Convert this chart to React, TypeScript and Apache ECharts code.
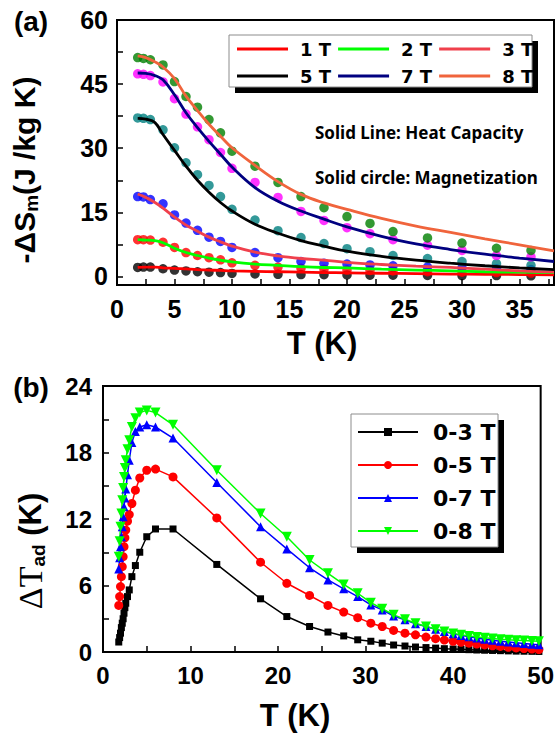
import React, { useEffect, useRef } from 'react';
import * as echarts from 'echarts';

// ---------- Panel (a): magnetic entropy change ----------
const FIELD_NAMES = ['1 T', '2 T', '3 T', '5 T', '7 T', '8 T'];
const CURVE_COLORS = ['#ff0000', '#00ff00', '#f0404c', '#000000', '#000080', '#f0643c'];
const DOT_COLORS = ['#000000', '#ff0000', '#0000ff', '#008080', '#ff00ff', '#008000'];

// heat-capacity derived curves
const CURVE_T = [1.8, 2.5, 3.3, 4, 5, 6, 7, 8, 9, 10, 12, 14, 16, 18, 20, 23, 26, 29, 32, 35, 38];
const CP_1T = [2.1, 2.2, 2.2, 2.0, 1.9, 1.75, 1.6, 1.5, 1.4, 1.3, 1.2, 1.1, 1.0, 0.9, 0.85, 0.75, 0.65, 0.55, 0.5, 0.45, 0.4];
const CP_2T = [8.6, 8.5, 8.4, 7.9, 6.6, 5.6, 4.9, 4.3, 3.8, 3.4, 2.9, 2.6, 2.3, 2.1, 2.0, 1.7, 1.5, 1.3, 1.1, 1.0, 0.9];
const CP_3T = [19.3, 18.5, 17.3, 16.0, 13.9, 12.0, 10.6, 9.2, 8.1, 7.1, 5.7, 4.8, 4.2, 3.8, 3.3, 2.8, 2.4, 2.1, 1.7, 1.3, 1.0];
const CP_5T = [37.0, 36.8, 36.0, 33.2, 29.5, 25.8, 22.5, 19.7, 17.3, 15.3, 12.2, 10.1, 8.4, 7.1, 5.9, 4.7, 3.8, 3.1, 2.5, 2.0, 1.6];
const CP_7T = [47.6, 47.5, 47.0, 46.0, 42.5, 38.3, 34.8, 31.6, 28.6, 25.6, 20.8, 17.6, 15.3, 13.4, 11.6, 9.4, 7.6, 6.3, 5.2, 4.3, 3.5];
const CP_8T = [51.6, 51.2, 50.2, 49.0, 46.3, 42.2, 38.8, 35.6, 32.8, 30.1, 26.0, 22.2, 19.2, 17.2, 15.7, 13.6, 11.8, 10.3, 8.8, 7.4, 6.0];

// magnetization derived points
const MAG_T = [1.8, 2.3, 2.9, 4, 5, 6, 7, 8, 9, 10, 12, 14, 16, 18, 20, 22, 24, 27, 30, 33, 36];
const MAG_1T = [2.1, 2.2, 2.2, 1.8, 1.5, 1.3, 1.1, 1.0, 0.9, 0.7, 0.6, 0.5, 0.45, 0.4, 0.35, 0.3, 0.3, 0.25, 0.2, 0.2, 0.15];
const MAG_2T = [8.6, 8.6, 8.5, 8.0, 6.8, 5.6, 4.9, 4.4, 3.9, 3.2, 2.6, 2.2, 1.9, 1.7, 1.5, 1.4, 1.3, 1.1, 1.0, 0.9, 0.8];
const MAG_3T = [18.7, 18.6, 18.0, 17.0, 14.4, 12.5, 10.8, 9.2, 8.2, 6.8, 5.6, 4.4, 3.5, 3.1, 2.9, 2.7, 2.5, 2.2, 2.0, 1.8, 1.6];
const MAG_5T = [37.1, 37.0, 36.7, 34.3, 30.1, 26.6, 23.8, 21.3, 18.7, 15.7, 13.2, 10.7, 9.1, 7.7, 6.5, 5.8, 4.9, 4.2, 3.5, 3.0, 2.6];
const MAG_7T = [47.4, 47.3, 47.0, 45.5, 41.6, 38.0, 35.0, 32.0, 29.0, 25.3, 22.0, 18.5, 15.2, 13.1, 11.4, 10.0, 8.6, 7.3, 6.1, 4.9, 4.6];
const MAG_8T = [51.2, 51.0, 50.7, 49.5, 45.6, 42.1, 39.6, 36.7, 33.6, 29.3, 25.8, 22.0, 18.7, 16.1, 14.0, 12.4, 10.5, 9.0, 7.8, 6.6, 6.1];

const CP_CURVES = [CP_1T, CP_2T, CP_3T, CP_5T, CP_7T, CP_8T];
const MAG_POINTS = [MAG_1T, MAG_2T, MAG_3T, MAG_5T, MAG_7T, MAG_8T];

const A_X_TICKS = [0, 2.5, 5, 7.5, 10, 12.5, 15, 17.5, 20, 22.5, 25, 27.5, 30, 32.5, 35, 37.5];
const A_X_LABELS = [0, 5, 10, 15, 20, 25, 30, 35];
const A_Y_TICKS = [0, 7.5, 15, 22.5, 30, 37.5, 45, 52.5, 60];
const A_Y_LABELS = [0, 15, 30, 45, 60];

// ---------- Panel (b): adiabatic temperature change ----------
const ADIABATIC_NAMES = ['0-3 T', '0-5 T', '0-7 T', '0-8 T'];
const ADIABATIC_COLORS = ['#000000', '#ff0000', '#0000ff', '#00ff00'];
const ADIABATIC_SYMBOLS = ['rect', 'circle', 'triangle', 'triangle'];
const ADIABATIC_ROTATE = [0, 0, 0, 180];
const ADIABATIC_SIZES = [7, 9, 9, 10];

const B_T = [1.8, 1.9, 2.0, 2.1, 2.2, 2.3, 2.4, 2.5, 2.6, 2.8, 3.0, 3.3, 3.7, 4.2, 5.0, 6.0, 8.0, 13, 18, 21,
  23.6, 25.7, 27.5, 29.1, 30.6, 31.9, 33.2, 34.5, 35.7, 36.9, 38.0, 39.0, 40.0, 40.9, 41.8, 42.7, 43.6, 44.5,
  45.4, 46.3, 47.2, 48.1, 49.0, 49.8];
const DT_3T = [0.9, 1.3, 1.7, 2.2, 2.6, 3.0, 3.5, 4.0, 4.4, 5.0, 5.6, 6.8, 7.8, 9.0, 10.4, 11.1, 11.1, 7.9, 4.8, 3.2,
  2.3, 1.8, 1.45, 1.1, 0.97, 0.8, 0.63, 0.54, 0.45, 0.4, 0.35, 0.3, 0.27, 0.24, 0.21, 0.18, 0.16, 0.14, 0.12, 0.1,
  0.08, 0.07, 0.06, 0.05];
const DT_5T = [4.2, 5.0, 5.9, 6.8, 7.7, 8.6, 9.5, 10.3, 11.0, 11.8, 12.4, 13.4, 14.6, 15.7, 16.4, 16.5, 15.8, 12.1, 8.1, 6.2,
  5.1, 4.2, 3.6, 3.1, 2.6, 2.3, 1.95, 1.7, 1.55, 1.35, 1.2, 1.08, 0.97, 0.88, 0.8, 0.72, 0.64, 0.56, 0.5, 0.43,
  0.37, 0.31, 0.26, 0.22];
const DT_7T = [7.5, 8.5, 9.5, 10.4, 11.3, 12.2, 13.1, 13.9, 14.7, 16.0, 17.3, 18.9, 19.9, 20.3, 20.5, 20.3, 19.3, 15.3, 11.3, 9.3,
  7.6, 6.5, 5.7, 5.0, 4.25, 3.8, 3.25, 2.9, 2.55, 2.3, 2.05, 1.85, 1.65, 1.5, 1.38, 1.26, 1.15, 1.05, 0.97, 0.9,
  0.83, 0.76, 0.7, 0.65];
const DT_8T = [8.6, 10.0, 11.3, 12.5, 13.7, 14.8, 15.8, 16.6, 17.3, 18.3, 19.1, 20.3, 21.1, 21.6, 21.8, 21.6, 20.5, 16.4, 12.5, 10.4,
  8.3, 7.1, 6.1, 5.3, 4.45, 3.9, 3.35, 2.95, 2.6, 2.3, 2.05, 1.85, 1.68, 1.55, 1.45, 1.36, 1.28, 1.22, 1.16, 1.11,
  1.07, 1.03, 1.0, 0.97];
const ADIABATIC_VALUES = [DT_3T, DT_5T, DT_7T, DT_8T];

const B_X_TICKS = [0, 5, 10, 15, 20, 25, 30, 35, 40, 45, 50];
const B_X_LABELS = [0, 10, 20, 30, 40, 50];
const B_Y_TICKS = [0, 3, 6, 9, 12, 15, 18, 21, 24];
const B_Y_LABELS = [0, 6, 12, 18, 24];

const pairs = (xs: number[], ys: number[]) => xs.map((x, i) => [x, ys[i]]);

const ARIAL = 'Liberation Sans, Arial, sans-serif';

function valueAxis(
  gridIndex: number, min: number, max: number, ticks: number[], labels: number[],
  fontSize: number, margin: number,
) {
  return {
    type: 'value',
    gridIndex,
    min,
    max,
    axisLine: { show: true, onZero: false, lineStyle: { color: '#000', width: 2 } },
    axisTick: { show: true, inside: true, length: 6, customValues: ticks, lineStyle: { color: '#000', width: 1.5 } },
    splitLine: { show: false },
    axisLabel: {
      customValues: labels,
      color: '#000',
      fontFamily: ARIAL,
      fontWeight: 'bold',
      fontSize,
      margin,
    },
  };
}

export default function App() {
  const ref = useRef<HTMLDivElement>(null);

  useEffect(() => {
    if (!ref.current) return;
    const chart = echarts.init(ref.current, undefined, { renderer: 'svg' });

    const entropySeries: any[] = [];
    FIELD_NAMES.forEach((name, i) => {
      entropySeries.push({
        name: name + ' (M)',
        type: 'scatter',
        xAxisIndex: 0,
        yAxisIndex: 0,
        symbol: 'circle',
        symbolSize: 9.5,
        itemStyle: { color: DOT_COLORS[i] },
        data: pairs(MAG_T, MAG_POINTS[i]),
        z: 2,
      });
    });
    FIELD_NAMES.forEach((name, i) => {
      entropySeries.push({
        name,
        type: 'line',
        xAxisIndex: 0,
        yAxisIndex: 0,
        symbol: 'none',
        smooth: 0.4,
        color: CURVE_COLORS[i],
        lineStyle: { color: CURVE_COLORS[i], width: 2.8 },
        data: pairs(CURVE_T, CP_CURVES[i]),
        z: 3,
      });
    });

    const adiabaticSeries = ADIABATIC_NAMES.map((name, i) => ({
      name,
      type: 'line',
      xAxisIndex: 1,
      yAxisIndex: 1,
      symbol: ADIABATIC_SYMBOLS[i],
      symbolSize: ADIABATIC_SIZES[i],
      symbolRotate: ADIABATIC_ROTATE[i],
      showSymbol: true,
      color: ADIABATIC_COLORS[i],
      itemStyle: { color: ADIABATIC_COLORS[i] },
      lineStyle: { color: ADIABATIC_COLORS[i], width: 1.5 },
      data: pairs(B_T, ADIABATIC_VALUES[i]),
      z: 3,
    }));

    const boldText = (text: string, x: number, y: number, size: number, family = ARIAL, align = 'left') => ({
      type: 'text',
      x,
      y,
      z: 5,
      style: {
        text,
        fill: '#000',
        fontSize: size,
        fontWeight: 'bold',
        fontFamily: family,
        align,
        verticalAlign: 'middle',
      },
    });

    const legendBox = (x: number, y: number, w: number, h: number) => [
      { type: 'rect', z: 3, shape: { x: x + 6, y: y + 6, width: w, height: h }, style: { fill: '#000' } },
      { type: 'rect', z: 3, shape: { x, y, width: w, height: h }, style: { fill: '#fff', stroke: '#8c8c8c', lineWidth: 1 } },
    ];

    chart.setOption({
      animation: false,
      textStyle: { fontFamily: ARIAL },
      grid: [
        { left: 117, right: 3, top: 20, bottom: 450, show: true, borderColor: '#000', borderWidth: 2, backgroundColor: 'transparent' },
        { left: 103, right: 15, top: 386, bottom: 83, show: true, borderColor: '#000', borderWidth: 2, backgroundColor: 'transparent' },
      ],
      xAxis: [
        valueAxis(0, 0, 38, A_X_TICKS, A_X_LABELS, 25, 11),
        valueAxis(1, 0, 50, B_X_TICKS, B_X_LABELS, 24, 11),
      ],
      yAxis: [
        valueAxis(0, -2, 60, A_Y_TICKS, A_Y_LABELS, 25, 9),
        valueAxis(1, 0, 24, B_Y_TICKS, B_Y_LABELS, 24, 11),
      ],
      legend: [
        {
          data: FIELD_NAMES.map((name) => ({ name, icon: 'rect' })),
          left: 237,
          top: 39,
          orient: 'horizontal',
          width: 300,
          padding: 0,
          itemWidth: 51,
          itemHeight: 3,
          itemGap: 7,
          selectedMode: false,
          textStyle: {
            fontFamily: 'DejaVu Sans',
            fontWeight: 'bold',
            fontSize: 18,
            color: '#000',
            lineHeight: 20,
            width: 29,
            padding: [0, 0, 0, 7],
          },
        },
        {
          data: ADIABATIC_NAMES,
          left: 357,
          top: 419,
          orient: 'vertical',
          padding: 0,
          itemWidth: 60,
          itemHeight: 10,
          itemGap: 7,
          selectedMode: false,
          textStyle: {
            fontFamily: 'DejaVu Sans',
            fontWeight: 'bold',
            fontSize: 22,
            color: '#000',
            lineHeight: 26,
            padding: [0, 0, 0, 10],
          },
        },
      ],
      graphic: [
        ...legendBox(229, 35, 303, 52),
        ...legendBox(351, 414, 147, 133),
        boldText('(a)', 31, 21, 28, ARIAL, 'center'),
        boldText('(b)', 31, 387, 28, ARIAL, 'center'),
        boldText('Solid Line: Heat Capacity', 315, 132, 17, 'Noto Sans'),
        boldText('Solid circle: Magnetization', 315, 177, 17, 'Noto Sans'),
        boldText('T (K)', 322, 343, 31, ARIAL, 'center'),
        boldText('T (K)', 295, 715, 31, ARIAL, 'center'),
        {
          type: 'text',
          x: 24,
          y: 170,
          rotation: Math.PI / 2,
          z: 5,
          style: {
            text: '{a|-ΔS}{s|m}{a|(J /kg K)}',
            align: 'center',
            verticalAlign: 'middle',
            rich: {
              a: { fill: '#000', fontSize: 30, fontWeight: 'bold', fontFamily: ARIAL, lineHeight: 34 },
              s: { fill: '#000', fontSize: 19, fontWeight: 'bold', fontFamily: ARIAL, lineHeight: 19, verticalAlign: 'bottom' },
            },
          },
        },
        {
          type: 'text',
          x: 30,
          y: 551,
          rotation: Math.PI / 2,
          z: 5,
          style: {
            text: '{d|ΔT}{s|ad}{k| (K)}',
            align: 'center',
            verticalAlign: 'middle',
            rich: {
              d: { fill: '#000', fontSize: 34, fontFamily: 'Liberation Serif, serif', lineHeight: 36 },
              s: { fill: '#000', fontSize: 19, fontWeight: 'bold', fontFamily: ARIAL, lineHeight: 19, verticalAlign: 'bottom' },
              k: { fill: '#000', fontSize: 31, fontWeight: 'bold', fontFamily: ARIAL, lineHeight: 36 },
            },
          },
        },
      ],
      series: [...entropySeries, ...adiabaticSeries],
    });

    return () => chart.dispose();
  }, []);

  return (
    <div
      ref={ref}
      style={{ position: 'absolute', left: 0, top: 0, width: 557, height: 735, background: '#fff' }}
    />
  );
}
